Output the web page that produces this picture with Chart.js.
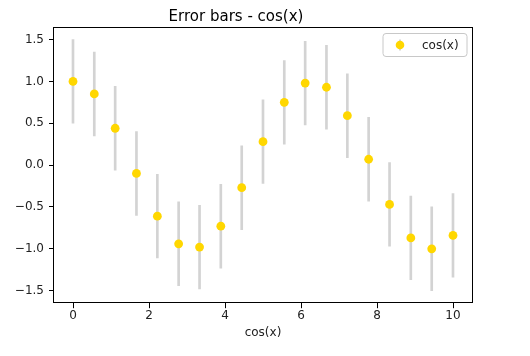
<!DOCTYPE html>
<html><head><meta charset="utf-8">
<script src="https://cdn.jsdelivr.net/npm/chart.js@4/dist/chart.umd.min.js"></script>
<style>html,body{margin:0;padding:0;background:#fff;}</style>
</head><body>
<canvas id="c" width="530" height="356" style="width:530px;height:356px;display:block"></canvas>
<script>
const xValues = [0, 0.56, 1.11, 1.67, 2.22, 2.78, 3.33, 3.89, 4.44, 5.00, 5.56, 6.11, 6.67, 7.22, 7.78, 8.33, 8.89, 9.44, 10];
const yValues = [1.00, 0.85, 0.44, -0.10, -0.61, -0.94, -0.98, -0.73, -0.27, 0.28, 0.75, 0.98, 0.93, 0.59, 0.07, -0.47, -0.87, -1.00, -0.84];
const yErrors = [0.5, 0.5, 0.5, 0.5, 0.5, 0.5, 0.5, 0.5, 0.5, 0.5, 0.5, 0.5, 0.5, 0.5, 0.5, 0.5, 0.5, 0.5, 0.5];
const xTicks = [0, 2, 4, 6, 8, 10];
const yTicks = [-1.5, -1.0, -0.5, 0.0, 0.5, 1.0, 1.5];
const seriesLabel = 'cos(x)';
const chartTitle = 'Error bars - cos(x)';
const xAxisTitle = 'cos(x)';

const FONT = "'DejaVu Sans', sans-serif";
const MARKER = '#ffd700';
const ERRCOL = '#d3d3d3';
const TXT = '#222';

const frame = {
  id: 'frame',
  afterDatasetsDraw(chart) {
    const a = chart.chartArea, ctx = chart.ctx;
    ctx.save();
    ctx.strokeStyle = '#000';
    ctx.lineWidth = 1;
    ctx.strokeRect(Math.round(a.left) - 0.5, Math.round(a.top) + 0.5, Math.round(a.right) - Math.round(a.left) + 1, Math.round(a.bottom) - Math.round(a.top) - 1);
    ctx.restore();
  }
};

const legendBox = {
  id: 'legendBox',
  afterDraw(chart) {
    const ctx = chart.ctx;
    const x0 = 383, y0 = 33.5, w = 84, h = 23, r = 3;
    ctx.save();
    ctx.beginPath();
    ctx.moveTo(x0 + r, y0);
    ctx.arcTo(x0 + w, y0, x0 + w, y0 + h, r);
    ctx.arcTo(x0 + w, y0 + h, x0, y0 + h, r);
    ctx.arcTo(x0, y0 + h, x0, y0, r);
    ctx.arcTo(x0, y0, x0 + w, y0, r);
    ctx.closePath();
    ctx.fillStyle = 'rgba(255,255,255,0.8)';
    ctx.fill();
    ctx.strokeStyle = '#c8c8c8';
    ctx.lineWidth = 1;
    ctx.stroke();
    const mx = 400, my = 45;
    ctx.strokeStyle = ERRCOL;
    ctx.lineWidth = 2;
    ctx.beginPath(); ctx.moveTo(mx, my - 5.5); ctx.lineTo(mx, my + 5.5); ctx.stroke();
    ctx.fillStyle = MARKER;
    ctx.beginPath(); ctx.arc(mx, my, 4.3, 0, Math.PI * 2); ctx.fill();
    ctx.fillStyle = TXT;
    ctx.font = '12px ' + FONT;
    ctx.textBaseline = 'middle';
    ctx.textAlign = 'left';
    ctx.fillText(chart.data.datasets[0].label, 422, my + 0.5);
    ctx.restore();
  }
};

const fmt = v => {
  const s = Number(v).toFixed(1);
  return s.replace('-', '\u2212');
};

new Chart(document.getElementById('c'), {
  type: 'scatter',
  data: {
    datasets: [
      {
        type: 'scatter',
        label: seriesLabel,
        order: 0,
        data: xValues.map((x, i) => ({ x: x, y: yValues[i] })),
        pointRadius: 4.4,
        pointHoverRadius: 4.4,
        pointBackgroundColor: MARKER,
        pointBorderWidth: 0,
        borderWidth: 0,
        showLine: false
      },
      {
        type: 'bar',
        label: 'err',
        order: 1,
        data: xValues.map((x, i) => ({ x: x, y: [yValues[i] - yErrors[i], yValues[i] + yErrors[i]] })),
        backgroundColor: ERRCOL,
        borderWidth: 0,
        barThickness: 2,
        grouped: false
      }
    ]
  },
  options: {
    responsive: false,
    animation: false,
    devicePixelRatio: 1,
    layout: { padding: { left: 0, right: 58, top: 0, bottom: 16 } },
    plugins: {
      legend: { display: false },
      tooltip: { enabled: false },
      title: {
        display: true,
        text: chartTitle,
        color: '#000',
        font: { family: FONT, size: 15, weight: 'normal' },
        padding: { top: 8, bottom: 1 }
      }
    },
    scales: {
      x: {
        type: 'linear',
        min: -0.5, max: 10.5,
        offset: false,
        afterBuildTicks: s => { s.ticks = xTicks.map(v => ({ value: v })); },
        grid: { display: true, offset: false, drawOnChartArea: false, drawTicks: true, tickLength: 5, tickColor: '#000', tickWidth: 1 },
        border: { display: false },
        ticks: { color: TXT, font: { family: FONT, size: 12 }, padding: 0, maxRotation: 0, callback: v => String(v) },
        title: { display: true, text: xAxisTitle, color: TXT, font: { family: FONT, size: 12 }, padding: { top: 3, bottom: 0 } }
      },
      y: {
        type: 'linear',
        min: -1.65, max: 1.65,
        afterBuildTicks: s => { s.ticks = yTicks.map(v => ({ value: v })); },
        afterFit: s => { s.width = 54; },
        grid: { display: true, drawOnChartArea: false, drawTicks: true, tickLength: 5, tickColor: '#000', tickWidth: 1 },
        border: { display: false },
        ticks: { color: TXT, font: { family: FONT, size: 12 }, padding: 5, callback: v => fmt(v) }
      }
    }
  },
  plugins: [frame, legendBox]
});
</script>
</body></html>
